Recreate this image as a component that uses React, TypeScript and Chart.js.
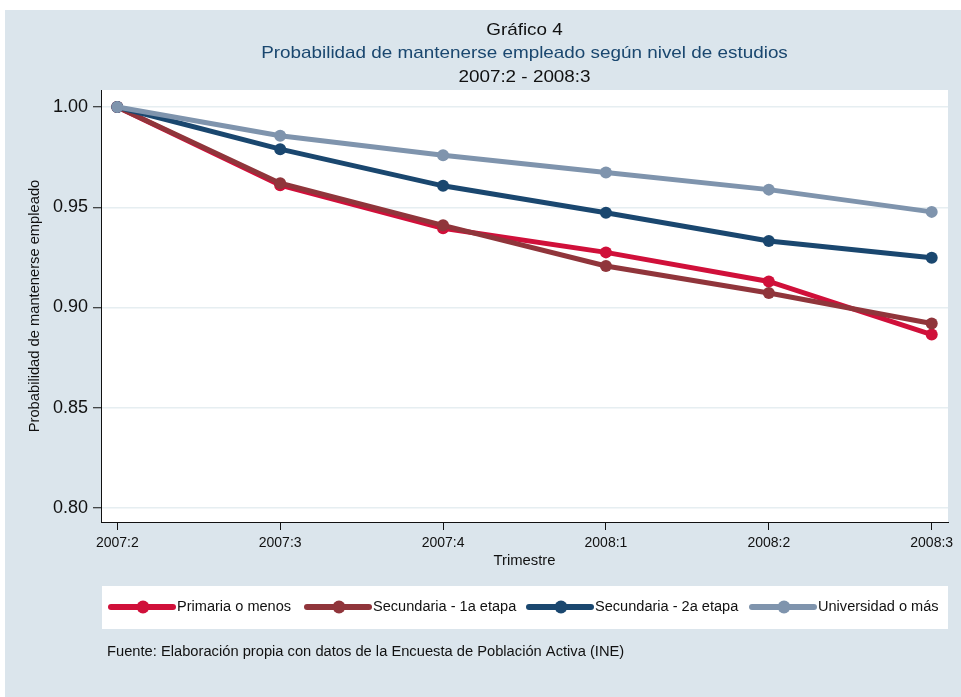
import React, { useEffect, useRef } from "react";
import { Chart, registerables } from "chart.js";

Chart.register(...registerables);

const quarters = ["2007:2", "2007:3", "2007:4", "2008:1", "2008:2", "2008:3"];
const primaria = [1.0, 0.961, 0.9395, 0.9275, 0.913, 0.8865];
const secundaria1 = [1.0, 0.962, 0.941, 0.9207, 0.9072, 0.892];
const secundaria2 = [1.0, 0.979, 0.9607, 0.9473, 0.9332, 0.9248];
const universidad = [1.0, 0.9857, 0.976, 0.9673, 0.9588, 0.9477];
const yTicks = [0.8, 0.85, 0.9, 0.95, 1.0];

const seriesNames = [
  "Primaria o menos",
  "Secundaria - 1a etapa",
  "Secundaria - 2a etapa",
  "Universidad o más",
];
const seriesColors = ["#d0103a", "#90353b", "#1a476f", "#7f94ad"];
const titleLines = [
  "Gráfico 4",
  "Probabilidad de mantenerse empleado según nivel de estudios",
  "2007:2 - 2008:3",
];
const titleColors = ["#111111", "#1a476f", "#111111"];
const xTitle = "Trimestre";
const yTitle = "Probabilidad de mantenerse empleado";
const sourceNote = "Fuente: Elaboración propia con datos de la Encuesta de Población Activa (INE)";

const FONT = "'Liberation Sans', Arial, Helvetica, sans-serif";
const BG = "#dbe5ec";

function stretchedText(ctx: any, text: string, x: number, y: number, sx: number, align: string) {
  ctx.save();
  ctx.translate(x, y);
  ctx.scale(sx, 1);
  ctx.textAlign = align;
  ctx.fillText(text, 0, 0);
  ctx.restore();
}

const decorPlugin = {
  id: "decor",
  beforeDraw(chart: any) {
    const { ctx, width, height, chartArea } = chart;
    ctx.save();
    ctx.fillStyle = "#ffffff";
    ctx.fillRect(0, 0, width, height);
    ctx.fillStyle = BG;
    ctx.fillRect(5, 10, width - 5, height - 10);
    ctx.fillStyle = "#ffffff";
    ctx.fillRect(chartArea.left, chartArea.top, chartArea.right - chartArea.left, chartArea.bottom - chartArea.top);
    ctx.restore();
  },
  afterDraw(chart: any) {
    const { ctx, chartArea } = chart;
    const cx = (chartArea.left + chartArea.right) / 2;
    const cy = (chartArea.top + chartArea.bottom) / 2;
    ctx.save();
    ctx.textBaseline = "middle";
    // titles
    ctx.font = `17px ${FONT}`;
    const ty = [30, 53, 77];
    titleLines.forEach((t, i) => {
      ctx.fillStyle = titleColors[i];
      stretchedText(ctx, t, cx, ty[i], 1.11, "center");
    });
    // axis titles
    ctx.fillStyle = "#111111";
    ctx.font = `14px ${FONT}`;
    stretchedText(ctx, xTitle, cx, 561, 1.06, "center");
    ctx.save();
    ctx.translate(35, cy);
    ctx.rotate(-Math.PI / 2);
    stretchedText(ctx, yTitle, 0, 0, 1.05, "center");
    ctx.restore();
    // legend box
    ctx.fillStyle = "#ffffff";
    ctx.fillRect(102, 586, 846, 43);
    const lx = [111, 307, 529, 752];
    const ly = 607;
    chart.data.datasets.forEach((ds: any, i: number) => {
      const x0 = lx[i];
      ctx.strokeStyle = ds.borderColor;
      ctx.lineWidth = 6;
      ctx.lineCap = "round";
      ctx.beginPath();
      ctx.moveTo(x0, ly);
      ctx.lineTo(x0 + 62, ly);
      ctx.stroke();
      ctx.fillStyle = ds.borderColor;
      ctx.beginPath();
      ctx.arc(x0 + 32, ly, 6.5, 0, Math.PI * 2);
      ctx.fill();
      ctx.fillStyle = "#111111";
      ctx.font = `14px ${FONT}`;
      stretchedText(ctx, ds.label, x0 + 66, ly, 1.04, "left");
    });
    // source
    ctx.fillStyle = "#111111";
    ctx.font = `14px ${FONT}`;
    stretchedText(ctx, sourceNote, 107, 652, 1.05, "left");
    ctx.restore();
  },
};

export default function App() {
  const ref = useRef<HTMLCanvasElement | null>(null);

  useEffect(() => {
    if (!ref.current) return;
    const allSeries = [primaria, secundaria1, secundaria2, universidad];
    const chart = new Chart(ref.current, {
      type: "line",
      data: {
        datasets: allSeries.map((vals, i) => ({
          label: seriesNames[i],
          data: vals.map((v, j) => ({ x: j, y: v })),
          borderColor: seriesColors[i],
          backgroundColor: seriesColors[i],
          borderWidth: 5,
          pointRadius: 6,
          pointHoverRadius: 6,
          pointBorderWidth: 0,
          tension: 0,
          order: allSeries.length - i,
        })),
      },
      options: {
        responsive: false,
        animation: false,
        devicePixelRatio: 1,
        layout: { padding: { top: 90, right: 13, left: 0, bottom: 0 } },
        plugins: {
          legend: { display: false },
          title: { display: false },
          tooltip: { enabled: false },
        },
        scales: {
          x: {
            type: "linear",
            min: -0.1,
            max: 5.1,
            afterBuildTicks: (s: any) => {
              s.ticks = quarters.map((_, i) => ({ value: i }));
            },
            afterFit: (s: any) => {
              s.height = 175;
            },
            ticks: {
              callback: (v: any) => quarters[Math.round(Number(v))],
              font: { family: FONT, size: 14 },
              color: "#111111",
              padding: 5,
              maxRotation: 0,
              autoSkip: false,
            },
            grid: { drawOnChartArea: false, tickLength: 8, tickColor: "#111111", tickWidth: 1 },
            border: { color: "#111111", width: 1 },
          },
          y: {
            type: "linear",
            min: 0.793,
            max: 1.0085,
            afterBuildTicks: (s: any) => {
              s.ticks = yTicks.map((v) => ({ value: v }));
            },
            afterFit: (s: any) => {
              s.width = 101;
            },
            ticks: {
              callback: (v: any) => Number(v).toFixed(2),
              font: { family: FONT, size: 18 },
              color: "#111111",
              padding: 5,
            },
            grid: { color: "#e6eef1", lineWidth: 1.5, tickLength: 8, tickColor: "#111111", tickWidth: 1 },
            border: { color: "#111111", width: 1 },
          },
        },
      },
      plugins: [decorPlugin],
    });
    return () => chart.destroy();
  }, []);

  return (
    <div style={{ position: "absolute", left: 0, top: 0, width: 961, height: 697 }}>
      <canvas ref={ref} width={961} height={697} style={{ display: "block", width: 961, height: 697 }} />
    </div>
  );
}
